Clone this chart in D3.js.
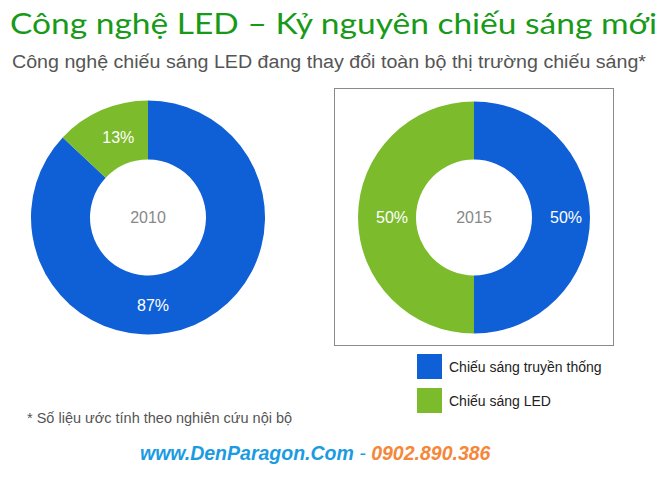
<!DOCTYPE html>
<html><head><meta charset="utf-8">
<script src="https://cdn.jsdelivr.net/npm/d3@7"></script>
<style>html,body{margin:0;padding:0;background:#fff;}svg{display:block;}</style>
</head><body>
<script>
const categories = ["Chiếu sáng truyền thống", "Chiếu sáng LED"];
const years = ["2010", "2015"];
const values2010 = [87, 13];
const values2015 = [50, 50];
const title = "Công nghệ LED – Kỷ nguyên chiếu sáng mới";
const subtitle = "Công nghệ chiếu sáng LED đang thay đổi toàn bộ thị trường chiếu sáng*";
const footnote = "* Số liệu ước tính theo nghiên cứu nội bộ";
const website = "www.DenParagon.Com";
const phone = "0902.890.386";

const W = 663, H = 489;
const colors = d3.scaleOrdinal().domain(categories).range(["#0f5fd6", "#7cbb2b"]);
const svg = d3.select("body").append("svg").attr("width", W).attr("height", H);
svg.append("rect").attr("width", W).attr("height", H).attr("fill", "#fff");

// Title
svg.append("text").attr("x", 10).attr("y", 34)
  .attr("font-family", "Lato, 'Open Sans', sans-serif").attr("font-size", 29)
  .attr("fill", "#179a17").attr("textLength", 647).attr("lengthAdjust", "spacingAndGlyphs")
  .text(title);
svg.append("text").attr("x", 12).attr("y", 68)
  .attr("font-family", "'Liberation Sans', Arial, sans-serif").attr("font-size", 18)
  .attr("fill", "#555").attr("textLength", 634).attr("lengthAdjust", "spacingAndGlyphs")
  .text(subtitle);

// box around second chart
svg.append("rect").attr("x", 334.5).attr("y", 88.5).attr("width", 279).attr("height", 257)
  .attr("fill", "none").attr("stroke", "#8a8a8a").attr("stroke-width", 1);

const pie = d3.pie().sort(null).value(d => d.v);
function donut(cx, cy, rOut, rIn, vals, year) {
  const g = svg.append("g").attr("transform", `translate(${cx},${cy})`);
  const data = pie(vals.map((v, i) => ({v, c: categories[i]})));
  const arc = d3.arc().innerRadius(rIn).outerRadius(rOut);
  g.selectAll("path").data(data).join("path")
    .attr("d", arc).attr("fill", d => colors(d.data.c));
  const rMid = (rIn + rOut) / 2;
  g.selectAll("text.pct").data(data).join("text").attr("class", "pct")
    .attr("transform", d => {
      let a = (d.startAngle + d.endAngle) / 2;
      if (d.endAngle - d.startAngle > Math.PI * 1.05 && d.startAngle < Math.PI && d.endAngle > Math.PI) a = Math.PI;
      return `translate(${rMid * Math.sin(a) + 5},${-rMid * Math.cos(a)})`;
    })
    .attr("text-anchor", "middle").attr("dy", "0.36em")
    .attr("font-family", "'Liberation Sans', Arial, sans-serif").attr("font-size", 16)
    .attr("fill", "#fff").text(d => Math.round(d.value) + "%");
  g.append("text").attr("text-anchor", "middle").attr("dy", "0.36em")
    .attr("font-family", "'Liberation Sans', Arial, sans-serif").attr("font-size", 16)
    .attr("fill", "#888").text(year);
}
donut(148, 217.5, 117, 58, values2010, years[0]);
donut(474, 217.5, 116, 58, values2015, years[1]);

// legend
const lg = svg.append("g").attr("transform", "translate(417,354)");
const items = lg.selectAll("g").data(categories).join("g")
  .attr("transform", (d, i) => `translate(0,${i * 34})`);
items.append("rect").attr("width", 25).attr("height", 25).attr("fill", d => colors(d));
items.append("text").attr("x", 32).attr("y", 18)
  .attr("font-family", "'Liberation Sans', Arial, sans-serif").attr("font-size", 14)
  .attr("fill", "#222").text(d => d);

// footnote
svg.append("text").attr("x", 27).attr("y", 423)
  .attr("font-family", "'Liberation Sans', Arial, sans-serif").attr("font-size", 14.5)
  .attr("fill", "#555").text(footnote);

// website
const wt = svg.append("text").attr("x", 140).attr("y", 460)
  .attr("font-family", "'Liberation Sans', Arial, sans-serif").attr("font-size", 19.5)
  .attr("font-weight", "bold").attr("font-style", "italic");
wt.append("tspan").attr("fill", "#1b9be2").text(website);
wt.append("tspan").attr("fill", "#1b9be2").attr("font-weight", "normal").text(" - ");
wt.append("tspan").attr("fill", "#f5873a").text(phone);
</script>
</body></html>
